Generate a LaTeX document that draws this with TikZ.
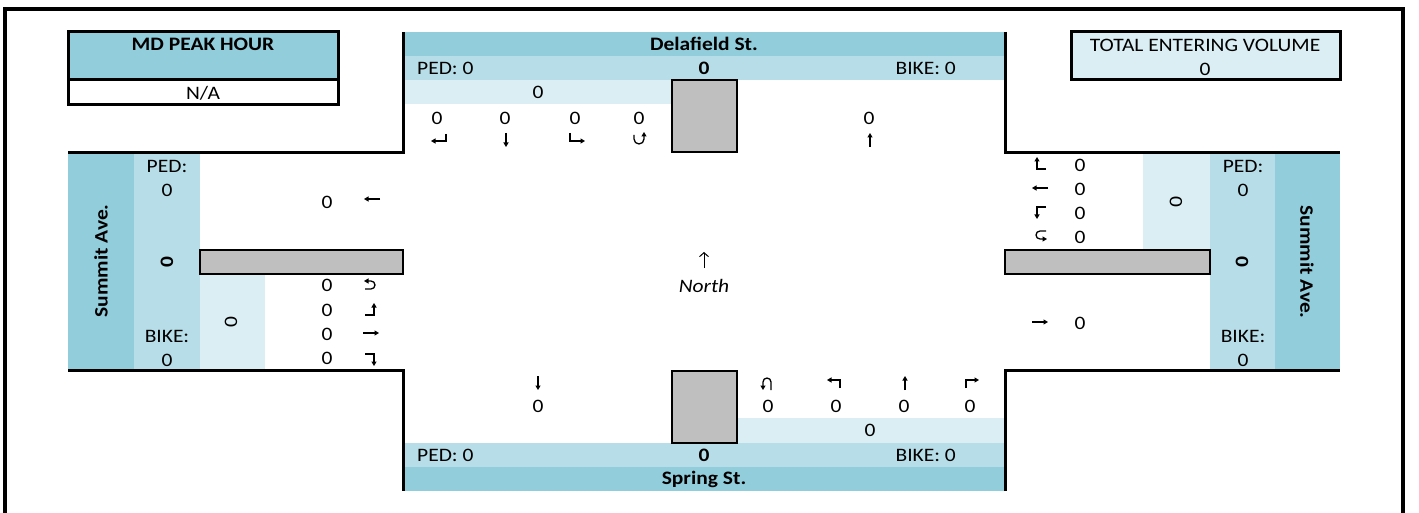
\documentclass[tikz,border=0pt]{standalone}
\usepackage{fontspec}
\setmainfont{Carlito}[FakeStretch=1.13]
\usetikzlibrary{arrows.meta}
\definecolor{dk}{HTML}{92CDDC}
\definecolor{md}{HTML}{B7DEE8}
\definecolor{lt}{HTML}{DAEEF3}
\definecolor{gr}{HTML}{BFBFBF}
\tikzset{
  lbl/.style={inner sep=0pt, font=\fontsize{19}{21}\selectfont},
  bl/.style={inner sep=0pt, font=\bfseries\fontsize{19}{21}\selectfont},
  edge/.style={line width=3pt},
  gbox/.style={fill=gr, draw=black, line width=2.5pt},
  garr/.style={line width=1.3pt, -{Triangle[length=4.5pt,width=5pt]}},
  pics/gdn/.style={code={\draw[garr] (0,-7) -- (0,7);}},
  pics/gup/.style={code={\draw[garr] (0,7) -- (0,-7);}},
  pics/glt/.style={code={\draw[garr] (8,0) -- (-8,0);}},
  pics/grt/.style={code={\draw[garr] (-8,0) -- (8,0);}},
  pics/gsbR/.style={code={\draw[garr] (7,-5) -- (7,2) -- (-8,2);}},
  pics/gsbL/.style={code={\draw[garr] (-7,-6) -- (-7,2) -- (8,2);}},
  pics/gsbU/.style={code={\draw[garr] (-5,-4) -- (-5,0) arc[start angle=180,end angle=0,radius=5] -- (5,-7);}},
  pics/gwbR/.style={code={\draw[garr] (6,5) -- (-3,5) -- (-3,-7);}},
  pics/gwbL/.style={code={\draw[garr] (6,-5) -- (-3,-5) -- (-3,7);}},
  pics/gwbU/.style={code={\draw[garr] (6,-5) -- (0,-5) arc[start angle=270,end angle=90,radius=4] -- (7,3);}},
  pics/gebU/.style={code={\draw[garr] (-6,4) -- (0,4) arc[start angle=90,end angle=-90,radius=4] -- (-7,-4);}},
  pics/gebL/.style={code={\draw[garr] (-6,5) -- (3,5) -- (3,-7);}},
  pics/gebR/.style={code={\draw[garr] (-6,-5) -- (3,-5) -- (3,7);}},
  pics/gnbU/.style={code={\draw[garr] (4,7) -- (4,-1) arc[start angle=0,end angle=-180,radius=4] -- (-4,7);}},
  pics/gnbL/.style={code={\draw[garr] (5,5) -- (5,-3) -- (-8,-3);}},
  pics/gnbR/.style={code={\draw[garr] (-5,5) -- (-5,-3) -- (8,-3);}},
}
\begin{document}
\begin{tikzpicture}[x=1pt,y=-1pt]
\useasboundingbox (0,0) rectangle (1419,513);
% ---------- band fills ----------
% top road
\fill[dk] (403,32) rectangle (1005,56);
\fill[md] (403,56) rectangle (1005,80);
\fill[lt] (403,80) rectangle (672,104);
% bottom road
\fill[lt] (737,418) rectangle (1005,443);
\fill[md] (403,443) rectangle (1005,467);
\fill[dk] (403,467) rectangle (1005,491);
% left road
\fill[dk] (68,153) rectangle (134,370);
\fill[md] (134,153) rectangle (200,370);
\fill[lt] (200,275) rectangle (265,370);
% right road
\fill[lt] (1143,153) rectangle (1210,250);
\fill[md] (1210,153) rectangle (1275,370);
\fill[dk] (1275,153) rectangle (1340,370);
% ---------- medians ----------
\draw[gbox] (672,80) rectangle (737,152);
\draw[gbox] (672,371) rectangle (737,443);
\draw[gbox] (200,250) rectangle (403,274);
\draw[gbox] (1005,250) rectangle (1210,274);
% ---------- road edges ----------
\draw[edge] (68,153) -- (403,153) -- (403,32);
\draw[edge] (1005,32) -- (1005,153) -- (1340,153);
\draw[edge] (68,370) -- (403,370) -- (403,491);
\draw[edge] (1005,491) -- (1005,370) -- (1340,370);
% ---------- outer frame ----------
\draw[line width=4pt] (4.5,520) -- (4.5,9.5) -- (1403,9.5) -- (1403,520);
% ---------- MD peak hour box ----------
\fill[dk] (68,32) rectangle (338,80);
\draw[edge] (68,80) -- (338,80);
\draw[edge] (68,32) rectangle (338,105);
\node[bl] (pkh) at (203,44) {MD PEAK HOUR};
\node[lbl] (pkv) at (203,93) {N/A};
% ---------- total entering volume ----------
\draw[edge, fill=lt] (1071,32) rectangle (1340,80);
\node[lbl] (tevh) at (1205,45) {TOTAL ENTERING VOLUME};
\node[lbl] (tevv) at (1205,69) {0};
% ---------- top road (Delafield St.) ----------
\node[bl] (nname) at (704,44) {Delafield St.};
\node[lbl, anchor=west] (nped) at (417,68) {PED: 0};
\node[bl] (ntot) at (704,68) {0};
\node[lbl, anchor=east] (nbike) at (956,68) {BIKE: 0};
\node[lbl] (nin) at (538,92) {0};
\node[lbl] (nr) at (437,118) {0};
\node[lbl] (nt) at (505,118) {0};
\node[lbl] (nl) at (575,118) {0};
\node[lbl] (nu) at (639,118) {0};
\node[lbl] (nout) at (869,118) {0};
\pic at (439,139) {gsbR};
\pic at (506,140) {gdn};
\pic at (577,139) {gsbL};
\pic at (639,139) {gsbU};
\pic at (870,140) {gup};
% ---------- bottom road (Spring St.) ----------
\node[bl] (sname) at (704,479) {Spring St.};
\node[lbl, anchor=west] (sped) at (417,455) {PED: 0};
\node[bl] (stot) at (704,455) {0};
\node[lbl, anchor=east] (sbike) at (956,455) {BIKE: 0};
\node[lbl] (sin) at (870,430) {0};
\node[lbl] (sout) at (538,406) {0};
\node[lbl] (su) at (768,406) {0};
\node[lbl] (sl) at (836,406) {0};
\node[lbl] (st) at (904,406) {0};
\node[lbl] (sr) at (970,406) {0};
\pic at (538,383) {gdn};
\pic at (767,383) {gnbU};
\pic at (835,383) {gnbL};
\pic at (905,383) {gup};
\pic at (971,383) {gnbR};
% ---------- left road (Summit Ave.) ----------
\node[bl, rotate=90] (wname) at (101,261) {Summit Ave.};
\node[lbl] (wpedl) at (167,166) {PED:};
\node[lbl] (wpedv) at (167,190) {0};
\node[bl, rotate=90] (wtot) at (167,262) {0};
\node[lbl] (wbikel) at (167,336) {BIKE:};
\node[lbl] (wbikev) at (167,360) {0};
\node[lbl, rotate=90] (win) at (231,322) {0};
\node[lbl] (wout) at (327,202) {0};
\pic at (372,199) {glt};
\node[lbl] (wu) at (327,285) {0};
\node[lbl] (wl) at (327,310) {0};
\node[lbl] (wt) at (327,334) {0};
\node[lbl] (wr) at (327,358) {0};
\pic at (371,285) {gebU};
\pic at (371,310) {gebL};
\pic at (371,333) {grt};
\pic at (371,359) {gebR};
% ---------- right road (Summit Ave.) ----------
\node[bl, rotate=-90] (ename) at (1307,262) {Summit Ave.};
\node[lbl] (epedl) at (1243,166) {PED:};
\node[lbl] (epedv) at (1243,190) {0};
\node[bl, rotate=-90] (etot) at (1242,262) {0};
\node[lbl] (ebikel) at (1243,336) {BIKE:};
\node[lbl] (ebikev) at (1243,360) {0};
\node[lbl, rotate=-90] (ein) at (1176,202) {0};
\node[lbl] (er) at (1080,165) {0};
\node[lbl] (et) at (1080,189) {0};
\node[lbl] (el) at (1080,213) {0};
\node[lbl] (eu) at (1080,237) {0};
\pic at (1040,164) {gwbR};
\pic at (1040,188) {glt};
\pic at (1040,212) {gwbL};
\pic at (1040,236) {gwbU};
\node[lbl] (eout) at (1080,323) {0};
\pic at (1040,322) {grt};
% ---------- north arrow ----------
\coordinate (nA) at (704,268);
\coordinate (nB) at (704,252);
\draw[line width=1pt, -{Straight Barb[length=4pt,width=9pt]}] (nA) -- (nB);
\node[lbl, font=\itshape\fontsize{19}{21}\selectfont] (north) at (704,286) {North};
\end{tikzpicture}
\end{document}
